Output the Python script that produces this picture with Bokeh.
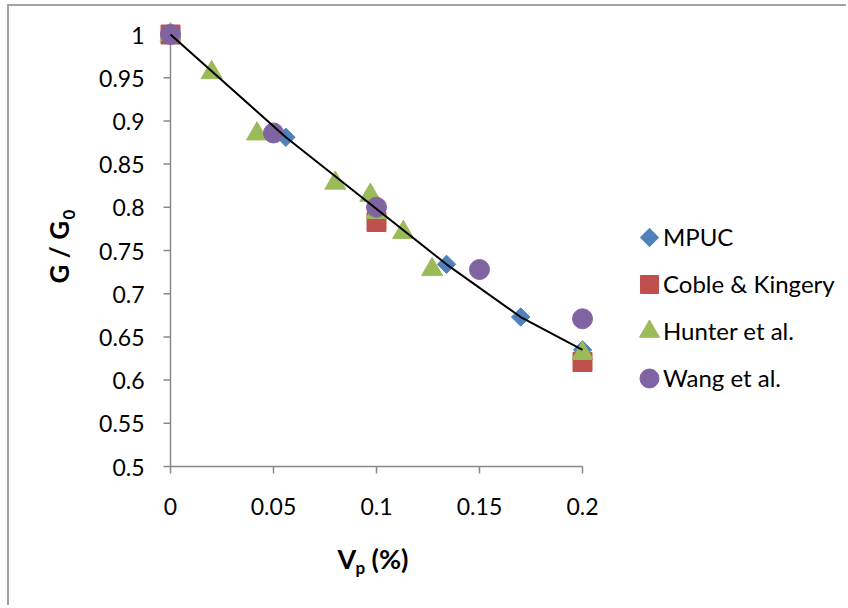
import math
from bokeh.plotting import figure
from bokeh.models import Range1d, Legend, LegendItem, Label
from bokeh.core.properties import value
from bokeh.embed import file_html
from bokeh.resources import INLINE

# ---- data ----
x_ticks = [0, 0.05, 0.1, 0.15, 0.2]
x_tick_labels = ["0", "0.05", "0.1", "0.15", "0.2"]
y_ticks = [0.5, 0.55, 0.6, 0.65, 0.7, 0.75, 0.8, 0.85, 0.9, 0.95, 1.0]
y_tick_labels = ["0.5", "0.55", "0.6", "0.65", "0.7", "0.75", "0.8", "0.85", "0.9", "0.95", "1"]

mpuc_x = [0, 0.056, 0.134, 0.17, 0.2]
mpuc_y = [1.0, 0.881, 0.734, 0.673, 0.635]

coble_x = [0, 0.1, 0.2]
coble_y = [1.0, 0.783, 0.621]

hunter_x = [0, 0.02, 0.042, 0.08, 0.097, 0.1, 0.113, 0.127, 0.2]
hunter_y = [1.0, 0.956, 0.885, 0.828, 0.814, 0.794, 0.771, 0.728, 0.631]

wang_x = [0, 0.05, 0.1, 0.15, 0.2]
wang_y = [1.0, 0.886, 0.8, 0.728, 0.671]

series_names = ["MPUC", "Coble & Kingery", "Hunter et al.", "Wang et al."]
colors = ["#4F81BD", "#C0504D", "#9BBB59", "#8064A2"]
markers = ["square", "square", "triangle", "circle"]
marker_angles = [math.pi / 4, 0.0, 0.0, 0.0]
marker_sizes = [13, 19, 21, 20]
legend_marker_sizes = [13, 18, 20, 19]

# ---- layout (pixels) ----
W, H = 839, 601
OX, OY = 9, 6                 # page position of the canvas
AX_X, AX_Y = 170, 34          # page px of x=0 / y=1
px_per_x = 2060.0
px_per_y = 864.0

x_start = -(AX_X - OX) / px_per_x
x_end = x_start + W / px_per_x
y_end = 1.0 + (AX_Y - OY) / px_per_y
y_start = y_end - H / px_per_y

p = figure(width=W, height=H, output_backend="svg", toolbar_location=None,
           x_range=Range1d(x_start, x_end), y_range=Range1d(y_start, y_end),
           x_axis_location=None, y_axis_location=None,
           min_border=0, min_border_left=0, min_border_right=0,
           min_border_top=0, min_border_bottom=0)
p.styles = {"margin-left": "7px", "margin-top": "4px",
            "border-left": "2px solid #a3a3a3", "border-top": "2px solid #a3a3a3"}
p.outline_line_color = None
p.grid.visible = False
p.background_fill_color = "white"
p.border_fill_color = "white"


def sx(page_x):
    return page_x - OX


def sy(page_y):
    return (OY + H) - page_y


def dx(page_x):
    return (page_x - AX_X) / px_per_x


def dy(page_y):
    return 1.0 - (page_y - AX_Y) / px_per_y


axis_col = "#898989"
tick_dx = 7 / px_per_x
tick_dy = 7 / px_per_y
xmin, xmax = x_ticks[0], x_ticks[-1]
ymin, ymax = y_ticks[0], y_ticks[-1]

# axis lines
p.line([xmin, xmax], [ymin, ymin], line_color=axis_col, line_width=1.5)
p.line([xmin, xmin], [ymin, ymax], line_color=axis_col, line_width=1.5)
# ticks
p.segment(x0=x_ticks, y0=[ymin] * len(x_ticks), x1=x_ticks, y1=[ymin - tick_dy] * len(x_ticks),
          line_color=axis_col, line_width=1.5)
p.segment(x0=[xmin] * len(y_ticks), y0=y_ticks, x1=[xmin - tick_dx] * len(y_ticks), y1=y_ticks,
          line_color=axis_col, line_width=1.5)
# tick labels
p.text(x=x_ticks, y=[ymin - 40 / px_per_y] * len(x_ticks), text=x_tick_labels,
       text_font=value("Lato"), text_font_size="23px", text_color="black",
       text_align="center", text_baseline="alphabetic")
p.text(x=[xmin - 26 / px_per_x] * len(y_ticks), y=[t - 0.5 / px_per_y for t in y_ticks],
       text=y_tick_labels, text_font=value("Lato"), text_font_size="23px",
       text_color="black", text_align="right", text_baseline="alphabetic")

# ---- series ----
series = [(mpuc_x, mpuc_y), (coble_x, coble_y), (hunter_x, hunter_y), (wang_x, wang_y)]
for (xs, ys), m, a, s, c in zip(series, markers, marker_angles, marker_sizes, colors):
    p.scatter(xs, ys, marker=m, size=s, angle=a, fill_color=c, line_color=c)
p.line(mpuc_x, mpuc_y, line_color="black", line_width=2)

# ---- legend ----
row_cy = [237, 284, 331, 378]   # page pixel centres of legend rows
marker_cx, text_x = 649, 663
for m, a, s, c, cy in zip(markers, marker_angles, legend_marker_sizes, colors, row_cy):
    p.scatter([dx(marker_cx)], [dy(cy)], marker=m, size=s, angle=a, fill_color=c, line_color=c)

for name, cy in zip(series_names, row_cy):
    dummy = p.scatter([], [], marker="square", fill_alpha=0, line_alpha=0)
    lg = Legend(items=[LegendItem(label=name, renderers=[dummy])],
                location=(int(round(sx(text_x - 1))), int(round(sy(cy + 15 - 1)))),
                glyph_width=1, glyph_height=1, label_height=30, label_standoff=0,
                padding=0, margin=0, border_line_color=None, background_fill_alpha=0,
                label_text_font="Lato", label_text_font_size="24px",
                label_text_color="black")
    p.add_layout(lg)

# ---- axis titles ----
tf = "Lato"


def lab(px, py, txt, size, angle=0.0):
    p.add_layout(Label(x=sx(px), y=sy(py), x_units="screen", y_units="screen",
                       text=txt, text_font=tf, text_font_style="bold", text_font_size=size,
                       text_color="black", text_baseline="alphabetic", text_align="left",
                       angle=angle))


lab(337, 558, "V", "27px")
lab(355, 567, "p", "17px")
lab(371, 558, "(%)", "27px")
lab(58, 283, "G / G", "26px", math.pi / 2)
lab(68, 219, "0", "17px", math.pi / 2)

open("out.html", "w").write(file_html(p, INLINE))
